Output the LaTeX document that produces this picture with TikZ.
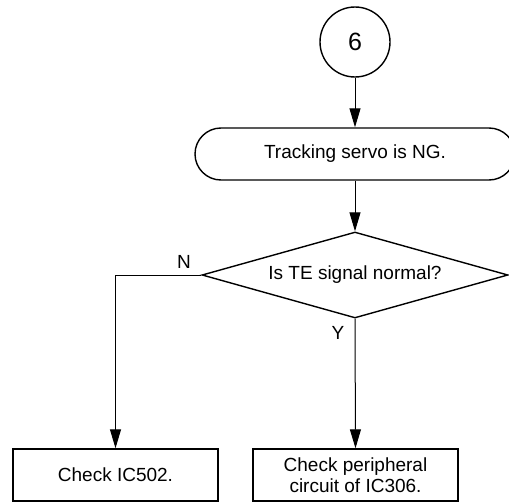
\documentclass[tikz,border=0pt]{standalone}
\usepackage{fontspec}
\setmainfont{Liberation Sans}
\usetikzlibrary{shapes.geometric,arrows.meta}

\begin{document}
\begin{tikzpicture}[x=0.5pt,y=-0.5pt,
        every node/.style={font=\fontsize{9.5}{10.5}\selectfont},
        box/.style={draw,line width=0.7pt,minimum width=102.5pt,minimum height=26pt,inner sep=0pt,align=center},
        link/.style={line width=0.5pt,-{Triangle[length=9.5pt,width=5.5pt]}}]
        \useasboundingbox (0,0) rectangle (509,503);

        \node[draw,circle,line width=0.7pt,minimum size=35pt,inner sep=0pt,
              font=\fontsize{12.5}{14}\selectfont] (start) at (355,42) {6};
        \node[draw,line width=0.7pt,rounded corners=13pt,minimum width=160pt,
              minimum height=26pt,inner sep=0pt] (servo) at (355,154) {Tracking servo is NG.};
        \node[draw,diamond,shape aspect=3.56,line width=0.7pt,minimum width=153pt,
              minimum height=43pt,inner sep=0pt] (te) at (355,275) {Is TE signal normal?};
        \node[box] (ic502) at (115.5,475) {Check IC502.};
        \node[box] (ic306) at (355.5,475) {Check peripheral\\circuit of IC306.};

        \draw[link] (start) -- (servo);
        \draw[link] (servo) -- (te);
        \draw[link] (te.west) -| (ic502.north);
        \draw[link] (te.south) -- (ic306.north);

        \node at (184,262) {N};% no branch
        \node at (338,333) {Y};
\end{tikzpicture}
\end{document}
